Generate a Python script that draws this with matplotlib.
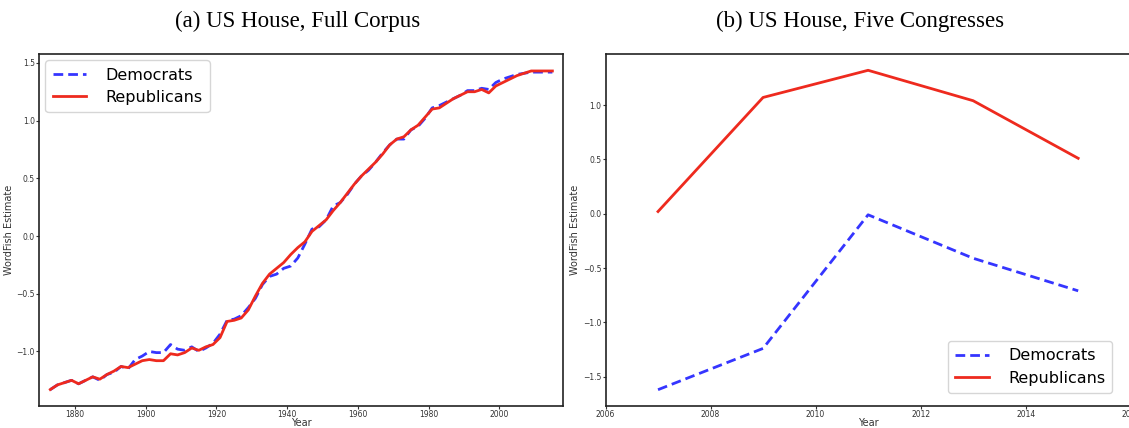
import matplotlib
matplotlib.use("Agg")
import matplotlib.pyplot as plt
import numpy as np

# ---- data: full corpus (biennial congresses) ----
years_full = list(range(1873, 2016, 2))
dem_full = [-1.33, -1.29, -1.27, -1.25, -1.28, -1.25, -1.22, -1.25, -1.20, -1.18,
            -1.13, -1.15, -1.07, -1.04, -1.00, -1.01, -1.01, -0.94, -0.98, -0.99,
            -0.96, -1.00, -0.97, -0.93, -0.85, -0.73, -0.72, -0.69, -0.62, -0.54,
            -0.42, -0.35, -0.33, -0.28, -0.26, -0.19, -0.07, 0.06, 0.08, 0.14,
            0.26, 0.29, 0.36, 0.45, 0.52, 0.57, 0.64, 0.72, 0.79, 0.84,
            0.84, 0.92, 0.95, 1.02, 1.11, 1.13, 1.16, 1.19, 1.22, 1.26,
            1.26, 1.28, 1.27, 1.33, 1.36, 1.38, 1.40, 1.41, 1.42, 1.42,
            1.42, 1.42]
rep_full = [-1.33, -1.29, -1.27, -1.25, -1.28, -1.25, -1.22, -1.24, -1.20, -1.17,
            -1.13, -1.14, -1.11, -1.08, -1.07, -1.08, -1.08, -1.02, -1.03, -1.01,
            -0.97, -0.99, -0.96, -0.94, -0.88, -0.74, -0.73, -0.71, -0.64, -0.52,
            -0.41, -0.33, -0.28, -0.23, -0.16, -0.10, -0.05, 0.04, 0.09, 0.14,
            0.22, 0.29, 0.37, 0.45, 0.52, 0.58, 0.64, 0.71, 0.79, 0.84,
            0.86, 0.92, 0.96, 1.03, 1.10, 1.11, 1.15, 1.19, 1.22, 1.25,
            1.25, 1.27, 1.24, 1.30, 1.33, 1.36, 1.39, 1.41, 1.43, 1.43,
            1.43, 1.43]

# ---- data: five congresses ----
years_five = [2007, 2009, 2011, 2013, 2015]
dem_five = [-1.62, -1.24, -0.01, -0.41, -0.71]
rep_five = [0.02, 1.07, 1.32, 1.04, 0.51]

labels = ["Democrats", "Republicans"]
titles = ["(a) US House, Full Corpus", "(b) US House, Five Congresses"]

DEM_C = "#3535ff"
REP_C = "#ee2a1e"

fig = plt.figure(figsize=(11.29, 4.28), dpi=100)
W, H = 1129, 428

def px_axes(x0, x1, ytop, ybot):
    return fig.add_axes([x0 / W, 1 - ybot / H, (x1 - x0) / W, (ybot - ytop) / H])

ax1 = px_axes(39, 563, 54, 406)
ax2 = px_axes(605.5, 1130.7, 54, 406)

leg_kw = dict(fontsize=11.5, handlelength=2.1, borderpad=0.45,
              labelspacing=0.45, handletextpad=1.2)

for ax, xs, d, r in [(ax1, years_full, dem_full, rep_full),
                     (ax2, years_five, dem_five, rep_five)]:
    ax.plot(xs, d, color=DEM_C, linestyle=(0, (3.5, 1.8)), linewidth=2.0, label=labels[0])
    ax.plot(xs, r, color=REP_C, linestyle="-", linewidth=2.0, label=labels[1])
    ax.set_xlabel("Year", fontsize=7, labelpad=-0.5, color="#333333")
    ax.set_ylabel("WordFish Estimate", fontsize=7, labelpad=2, color="#333333")
    ax.tick_params(labelsize=5.5, length=2, width=0.8, pad=1, colors="#333333")
    for s in ax.spines.values():
        s.set_linewidth(1.2)
        s.set_color("#222222")

ax1.set_xlim(1869.8, 2018.0)
ax1.set_ylim(-1.4725, 1.577)
ax1.set_xticks([1880, 1900, 1920, 1940, 1960, 1980, 2000])
ax1.set_yticks([-1.0, -0.5, 0.0, 0.5, 1.0, 1.5])
ax1.legend(loc="upper left", borderaxespad=0.4, **leg_kw)

ax2.set_xlim(2006, 2016)
ax2.set_ylim(-1.77, 1.47)
ax2.set_xticks([2006, 2008, 2010, 2012, 2014, 2016])
ax2.set_yticks([-1.5, -1.0, -0.5, 0.0, 0.5, 1.0])
ax2.legend(loc="lower right", bbox_to_anchor=(0.98, 0.015), **leg_kw)

fig.text(298 / W, 1 - 21 / H, titles[0], ha="center", va="center",
         fontsize=16.5, family="Liberation Serif")
fig.text(860 / W, 1 - 21 / H, titles[1], ha="center", va="center",
         fontsize=16.5, family="Liberation Serif")

fig.savefig("out.png", dpi=100)
